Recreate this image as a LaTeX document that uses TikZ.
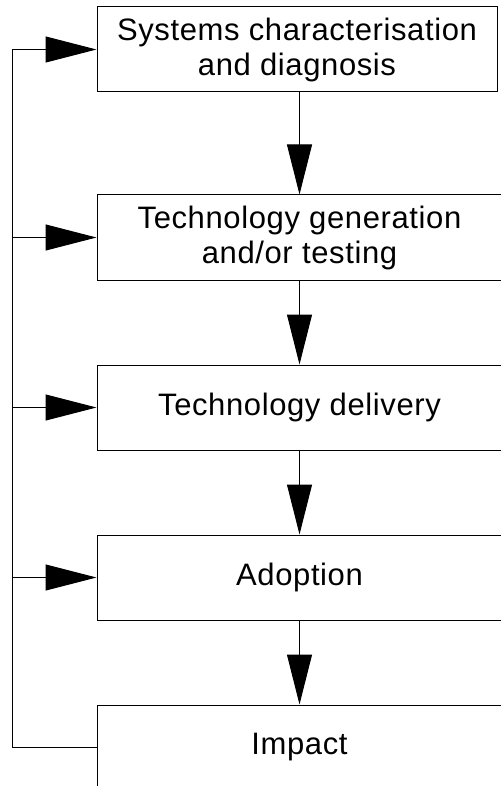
\documentclass[tikz,border=0pt]{standalone}
\usepackage{fontspec}
\setmainfont{Liberation Sans}
\usetikzlibrary{arrows.meta,positioning}

\begin{document}
\begin{tikzpicture}[
        x=0.5pt, y=-0.5pt,
        stage/.style={draw, rectangle, inner sep=0pt, minimum height=42.5pt,
          align=center, font=\fontsize{15.5}{17.5}\selectfont\addfontfeature{LetterSpace=2}},
        flow/.style={-{Triangle[length=25pt, width=12.5pt]}},
        feed/.style={-{Triangle[length=25.5pt, width=13pt]}},
        line width=0.5pt
      ]
      \useasboundingbox (0,0) rectangle (500,786);
      % the chain of stages
      \node[stage, minimum width=200pt] (sys) at (297,49.5) {Systems characterisation\\and diagnosis};
      \node[stage, minimum width=202.5pt] (gen) at (299.5,237.5) {Technology generation\\and/or testing};
      \node[stage, minimum width=202.5pt] (del) at (299.5,407.5) {Technology delivery};
      \node[stage, minimum width=202.5pt] (adopt) at (299.5,577.5) {Adoption};
      \node[stage, minimum width=202.5pt] (imp) at (299.5,747.5) {Impact};
      \draw[flow] (sys.south -| gen.north) -- (gen.north);
      \draw[flow] (gen) -- (del);
      \draw[flow] (del) -- (adopt);
      \draw[flow] (adopt) -- (imp);
      % feedback loop
      \coordinate (back) at (12,49.5);
      \draw[feed] (imp.west) -| (back) -- (sys.west);
      \draw[feed] (back |- gen.west) -- (gen.west);
      \draw[feed] (back |- del.west) -- (del.west);
      \draw[feed] (back |- adopt.west) -- (adopt.west);
    \end{tikzpicture}
\end{document}
